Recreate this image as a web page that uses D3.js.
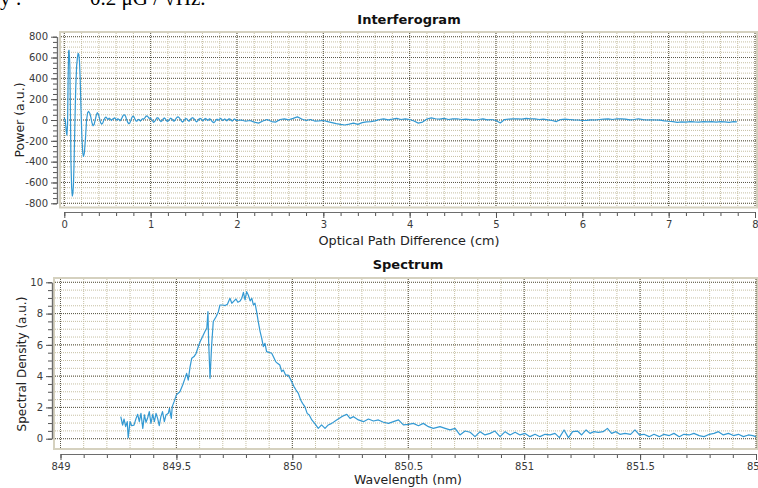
<!DOCTYPE html>
<html>
<head>
<meta charset="utf-8">
<script src="https://cdn.jsdelivr.net/npm/d3@7"></script>
<style>
  html, body { margin: 0; padding: 0; background: #ffffff; }
  svg { display: block; }
</style>
</head>
<body>
<svg id="chart" width="758" height="488"></svg>
<script>
// Interferogram: optical path difference (cm) and detector power (a.u.)
const opd = [
  0.000,0.012,0.024,0.030,0.038,0.044,0.050,0.055,0.060,0.064,0.070,0.077,0.085,0.093,0.100,0.106,0.113,0.122,0.132,0.143,
  0.152,0.160,0.168,0.176,0.184,0.193,0.203,0.213,0.222,0.232,0.245,0.258,0.270,0.282,0.295,0.308,0.320,0.333,0.345,0.358,
  0.370,0.383,0.395,0.408,0.420,0.433,0.445,0.458,0.470,0.483,0.495,0.508,0.520,0.533,0.545,0.558,0.570,0.583,0.595,0.608,
  0.620,0.633,0.645,0.658,0.670,0.683,0.695,0.708,0.720,0.733,0.745,0.758,0.770,0.783,0.795,0.808,0.820,0.833,0.845,0.858,
  0.870,0.883,0.895,0.908,0.920,0.933,0.945,0.958,0.970,0.983,0.995,1.008,1.020,1.033,1.045,1.058,1.070,1.083,1.095,1.108,
  1.120,1.133,1.145,1.158,1.170,1.183,1.195,1.208,1.220,1.233,1.245,1.258,1.270,1.283,1.295,1.308,1.320,1.333,1.345,1.358,
  1.370,1.383,1.395,1.408,1.420,1.433,1.445,1.458,1.470,1.483,1.495,1.508,1.520,1.533,1.545,1.558,1.570,1.583,1.595,1.608,
  1.620,1.633,1.645,1.658,1.670,1.683,1.695,1.708,1.720,1.733,1.745,1.758,1.770,1.783,1.795,1.808,1.820,1.833,1.845,1.858,
  1.870,1.883,1.895,1.908,1.920,1.933,1.945,1.958,1.970,1.983,1.995,
  2.05,2.10,2.15,2.20,2.25,2.30,2.35,2.40,2.45,2.50,2.55,2.60,2.65,2.70,2.75,2.80,2.85,2.90,2.95,3.00,
  3.05,3.10,3.15,3.20,3.25,3.30,3.35,3.40,3.45,3.50,3.55,3.60,3.65,3.70,3.75,3.80,3.85,3.90,3.95,4.00,
  4.05,4.10,4.15,4.20,4.25,4.30,4.35,4.40,4.45,4.50,4.55,4.60,4.65,4.70,4.75,4.80,4.85,4.90,4.95,5.00,
  5.05,5.10,5.15,5.20,5.25,5.30,5.35,5.40,5.45,5.50,5.55,5.60,5.65,5.70,5.75,5.80,5.85,5.90,5.95,6.00,
  6.05,6.10,6.15,6.20,6.25,6.30,6.35,6.40,6.45,6.50,6.55,6.60,6.65,6.70,6.75,6.80,6.85,6.90,6.95,7.00,
  7.05,7.10,7.15,7.20,7.25,7.30,7.35,7.40,7.45,7.50,7.55,7.60,7.65,7.70,7.75,7.79
];
const power = [
  20,-10,-120,-145,-40,380,660,670,600,520,150,-400,-650,-730,-700,-620,-420,-60,300,520,
  600,640,630,560,400,120,-150,-310,-350,-320,-180,0,70,82,65,25,-25,-55,-45,0,
  45,70,55,15,-25,-40,-30,0,20,28,15,5,18,10,-5,8,15,20,10,0,
  12,5,-8,5,25,45,50,40,10,-20,-35,-30,-5,25,38,30,5,-12,-8,5,
  0,-10,5,12,8,20,35,40,30,15,20,10,-5,-22,-15,0,18,22,10,-5,
  -15,-8,10,20,12,-5,-15,-5,8,18,10,-5,-12,0,15,28,30,20,5,-12,
  -20,-10,5,15,10,-5,-12,0,15,22,18,5,-10,-18,-8,8,15,12,0,-8,
  5,15,10,-5,0,12,5,-10,-20,-25,-15,0,8,-2,5,15,10,-5,0,10,
  5,-8,0,12,8,-5,-10,2,10,5,-5,
  0,-12,-5,-20,-30,-10,5,-15,-20,5,10,2,15,30,10,-5,5,-10,-8,-5,
  -15,-25,-35,-42,-48,-40,-30,-42,-25,-18,-15,-8,5,10,2,8,15,5,10,5,
  -10,-30,-20,10,20,12,8,15,5,10,12,5,8,3,-2,5,10,2,5,-5,
  -28,5,8,10,12,8,15,12,10,5,8,2,-5,-15,5,8,5,2,0,-5,
  -3,2,0,5,8,10,5,12,10,8,2,5,12,3,0,2,0,-2,-8,-12,
  -15,-22,-18,-20,-15,-18,-20,-15,-18,-16,-20,-15,-18,-22,-15,-18
];

// Spectrum: wavelength (nm) and spectral density (a.u.)
const wavelength = [
  849.260,849.268,849.274,849.281,849.288,849.292,849.300,849.307,849.317,849.326,849.333,849.340,849.347,849.355,849.362,
  849.369,849.376,849.383,849.390,849.398,849.405,849.412,849.419,849.426,849.433,849.440,849.448,849.455,849.465,849.470,
  849.478,849.482,849.490,849.500,849.515,849.527,849.537,849.544,849.551,849.559,849.566,849.576,849.585,849.592,849.602,
  849.613,849.623,849.631,849.636,849.639,849.645,849.652,849.659,849.671,849.681,849.688,849.700,849.710,849.720,849.731,
  849.739,849.749,849.757,849.765,849.775,849.782,849.789,849.796,849.803,849.810,849.818,849.825,849.832,849.839,849.846,
  849.853,849.861,849.868,849.875,849.882,849.889,849.900,849.911,849.918,849.928,849.936,849.946,849.954,849.961,849.971,
  849.982,849.990,849.997,850.007,850.016,850.026,850.036,850.044,850.054,850.064,850.073,850.084,850.098,850.112,850.126,
  850.141,850.155,850.170,850.191,850.213,850.235,850.249,850.264,850.285,850.307,850.328,850.350,850.371,850.393,850.415,
  850.436,850.458,850.479,850.501,850.522,850.544,850.565,850.587,850.608,850.637,850.659,850.680,850.702,850.723,850.745,
  850.767,850.788,850.810,850.831,850.853,850.874,850.896,850.918,850.939,850.961,850.982,851.004,851.025,851.047,851.068,
  851.090,851.112,851.133,851.152,851.172,851.191,851.209,851.230,851.248,851.267,851.284,851.301,851.320,851.341,851.359,
  851.377,851.396,851.413,851.435,851.459,851.478,851.497,851.517,851.539,851.560,851.583,851.603,851.626,851.646,851.669,
  851.689,851.712,851.732,851.755,851.776,851.799,851.819,851.838,851.859,851.881,851.903,851.924,851.946,851.967,851.986,852.000
];
const density = [
  1.41,0.87,1.26,0.77,1.09,0.06,1.09,0.83,0.87,1.30,1.56,1.09,1.62,0.66,1.52,
  1.05,1.34,1.73,0.98,1.56,1.09,1.62,1.30,0.83,1.41,1.73,1.09,1.52,1.62,1.94,
  1.30,2.05,2.37,2.80,3.00,3.43,3.86,4.18,3.75,4.61,5.14,5.25,5.46,5.78,6.20,
  6.53,6.85,7.06,8.12,6.20,3.86,5.99,7.49,7.80,8.12,8.55,8.55,8.51,8.60,8.98,
  8.66,8.81,8.93,8.72,8.81,8.98,9.36,8.87,9.40,9.19,8.81,8.98,8.55,8.66,8.12,
  7.49,6.85,6.42,5.89,6.10,5.57,5.52,5.46,5.25,4.93,4.82,4.71,4.29,4.39,4.07,
  4.07,3.86,3.65,3.33,3.11,2.90,2.47,2.26,2.05,1.62,1.52,1.20,0.95,0.66,0.88,
  0.66,0.88,0.98,1.20,1.41,1.56,1.30,1.41,1.20,1.09,1.26,1.13,1.20,1.05,0.98,
  1.09,1.20,0.88,0.92,0.98,0.83,0.98,0.77,0.66,0.77,0.66,0.56,0.66,0.24,0.49,
  0.41,0.13,0.45,0.24,0.34,0.49,0.13,0.45,0.24,0.41,0.24,0.34,0.13,0.28,0.13,
  0.28,0.24,0.34,0.07,0.56,0.07,0.45,0.49,0.24,0.56,0.34,0.45,0.41,0.45,0.66,
  0.34,0.45,0.28,0.34,0.28,0.56,0.24,0.28,0.13,0.28,0.13,0.28,0.20,0.34,0.13,
  0.28,0.24,0.34,0.20,0.13,0.28,0.34,0.45,0.24,0.34,0.20,0.28,0.13,0.24,0.20,0.13
];

// Tick values
const opdMajor = [0,1,2,3,4,5,6,7,8];
const powerMajor = [800,600,400,200,0,-200,-400,-600,-800];
const waveMajor = [849,849.5,850,850.5,851,851.5,852];
const densityMajor = [0,2,4,6,8,10];

const FONT = '"DejaVu Sans", Verdana, sans-serif';
const SERIF = '"Liberation Serif", "Times New Roman", serif';
const LINE = "#3399d3";
const MINOR_GRID = "#c6bfa2";
const MAJOR_GRID = "#5a5748";
const svg = d3.select("#chart");

// plain hyphen for negatives, like the instrument software prints them
const intFmt = d => String(Math.round(d));

// Subtitle text fragment at the very top of the page
svg.append("text").attr("x", 0).attr("y", 5)
  .attr("font-family", SERIF).attr("font-size", 21).attr("fill", "#000").text("y :");
svg.append("text").attr("x", 90).attr("y", 5)
  .attr("font-family", SERIF).attr("font-size", 21).attr("fill", "#000").text("0.2 μG / √Hz.");

function range(a, b, step) {
  const out = [];
  const n = Math.round((b - a) / step);
  for (let i = 0; i <= n; i++) out.push(+(a + i * step).toFixed(6));
  return out;
}

function panel(cfg) {
  const g = svg.append("g");
  const { x, y, frame } = cfg;

  // plot frame and background
  g.append("rect")
    .attr("x", frame.x0).attr("y", frame.y0)
    .attr("width", frame.x1 - frame.x0).attr("height", frame.y1 - frame.y0)
    .attr("fill", "#ffffff").attr("stroke", "#d5d1bf").attr("stroke-width", 2);

  const grid = g.append("g");
  const vLines = (values, color) => values.forEach(v => {
    grid.append("line").attr("x1", x(v)).attr("x2", x(v))
      .attr("y1", frame.y0 + 1).attr("y2", frame.y1 - 1)
      .attr("stroke", color).attr("stroke-dasharray", "1,1");
  });
  const hLines = (values, color) => values.forEach(v => {
    grid.append("line").attr("y1", y(v)).attr("y2", y(v))
      .attr("x1", frame.x0 + 1).attr("x2", frame.x1 - 1)
      .attr("stroke", color).attr("stroke-dasharray", "1,1");
  });
  vLines(cfg.xMinor, MINOR_GRID);
  hLines(cfg.yMinor, MINOR_GRID);
  vLines(cfg.xMajor, MAJOR_GRID);
  hLines(cfg.yMajor, MAJOR_GRID);

  // data line
  const line = d3.line().x(d => x(d[0])).y(d => y(d[1]));
  g.append("path")
    .datum(cfg.xs.map((v, i) => [v, cfg.ys[i]]))
    .attr("d", line).attr("fill", "none")
    .attr("stroke", LINE).attr("stroke-width", 1.2).attr("stroke-linejoin", "round");

  // axes
  const xAxisMinor = d3.axisBottom(x).tickValues(cfg.xMinor).tickSize(4).tickFormat("").tickSizeOuter(0);
  const xAxis = d3.axisBottom(x).tickValues(cfg.xMajor).tickSize(6).tickSizeOuter(0)
    .tickPadding(3).tickFormat(cfg.xFormat);
  const yAxisMinor = d3.axisLeft(y).tickValues(cfg.yMinor).tickSize(4).tickFormat("").tickSizeOuter(0);
  const yAxis = d3.axisLeft(y).tickValues(cfg.yMajor).tickSize(6).tickSizeOuter(0)
    .tickPadding(3).tickFormat(cfg.yFormat);

  const styleAxis = sel => {
    sel.selectAll("path.domain").attr("stroke", "#6d6d6d").attr("stroke-width", 1.2);
    sel.selectAll(".tick line").attr("stroke", "#555");
    sel.selectAll(".tick text").attr("fill", "#3a3a3a").attr("font-size", 10).attr("font-family", FONT);
  };
  g.append("g").attr("transform", `translate(0,${cfg.xAxisY})`).call(xAxisMinor).call(styleAxis);
  g.append("g").attr("transform", `translate(0,${cfg.xAxisY})`).call(xAxis).call(styleAxis);
  g.append("g").attr("transform", `translate(${cfg.yAxisX},0)`).call(yAxisMinor).call(styleAxis);
  g.append("g").attr("transform", `translate(${cfg.yAxisX},0)`).call(yAxis).call(styleAxis);

  // titles
  g.append("text").attr("x", cfg.titleX).attr("y", cfg.titleY)
    .attr("text-anchor", "middle").attr("font-family", FONT).attr("font-weight", "bold")
    .attr("font-size", 13).attr("fill", "#111").text(cfg.title);
  g.append("text").attr("x", cfg.titleX).attr("y", cfg.xLabelY)
    .attr("text-anchor", "middle").attr("font-family", FONT)
    .attr("font-size", cfg.xLabelSize).attr("fill", "#222").text(cfg.xLabel);
  g.append("text")
    .attr("transform", `translate(${cfg.yLabelX},${cfg.yLabelCY}) rotate(-90)`)
    .attr("text-anchor", "middle").attr("font-family", FONT)
    .attr("font-size", cfg.yLabelSize).attr("fill", "#222").text(cfg.yLabel);
}

// Interferogram panel
const x1 = d3.scaleLinear().domain([0, 8]).range([64.3, 755]);
const y1 = d3.scaleLinear().domain([-800, 800]).range([203.3, 36.7]);
panel({
  x: x1, y: y1,
  frame: { x0: 60, x1: 757, y0: 32, y1: 207.5 },
  xs: opd, ys: power,
  xMajor: opdMajor, xMinor: range(0, 8, 0.2),
  yMajor: powerMajor, yMinor: range(-800, 800, 50),
  xFormat: intFmt, yFormat: intFmt,
  xAxisY: 212, yAxisX: 57,
  title: "Interferogram", titleX: 409, titleY: 24,
  xLabel: "Optical Path Difference (cm)", xLabelY: 245, xLabelSize: 12.8,
  yLabel: "Power (a.u.)", yLabelX: 23.5, yLabelCY: 120, yLabelSize: 12.5
});

// Spectrum panel
const x2 = d3.scaleLinear().domain([849, 852]).range([60.5, 756]);
const y2 = d3.scaleLinear().domain([0, 10]).range([438.7, 282.3]);
panel({
  x: x2, y: y2,
  frame: { x0: 54, x1: 757, y0: 278, y1: 449 },
  xs: wavelength, ys: density,
  xMajor: waveMajor, xMinor: range(849, 852, 0.1),
  yMajor: densityMajor, yMinor: range(0, 10, 0.5),
  xFormat: d => (Number.isInteger(d) ? String(d) : d.toFixed(1)),
  yFormat: intFmt,
  xAxisY: 454, yAxisX: 52,
  title: "Spectrum", titleX: 408, titleY: 269,
  xLabel: "Wavelength (nm)", xLabelY: 484, xLabelSize: 12.5,
  yLabel: "Spectral Density (a.u.)", yLabelX: 26, yLabelCY: 364, yLabelSize: 12
});
</script>
</body>
</html>
